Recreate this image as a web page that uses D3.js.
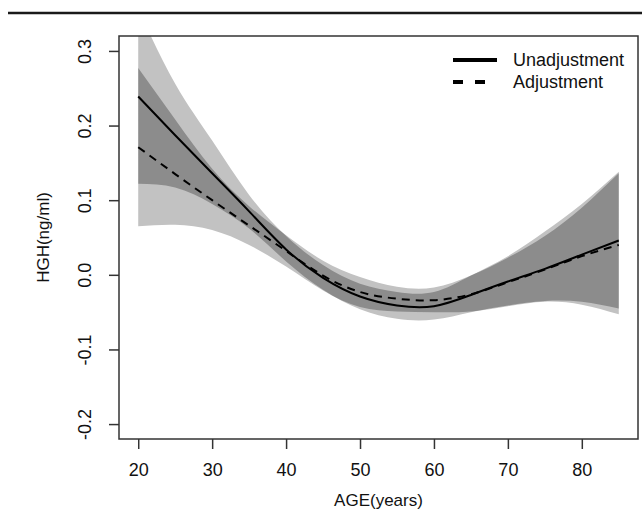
<!DOCTYPE html>
<html>
<head>
<meta charset="utf-8">
<script src="https://cdn.jsdelivr.net/npm/d3@7"></script>
<style>
  body { margin: 0; background: #fff; }
  text { font-family: "Liberation Sans", Arial, sans-serif; fill: #111; }
</style>
</head>
<body>
<script>
const width = 642, height = 514;

const ages = [20, 25, 30, 35, 40, 45, 50, 55, 60, 65, 70, 75, 80, 85];

// unadjusted spline fit and its confidence band
const unadjFit  = [0.239, 0.187, 0.136, 0.085, 0.034, -0.004, -0.029, -0.041, -0.042, -0.027, -0.009, 0.008, 0.027, 0.046];
const unadjLow  = [0.122, 0.117, 0.095, 0.062, 0.018, -0.020, -0.046, -0.059, -0.060, -0.050, -0.041, -0.035, -0.036, -0.045];
const unadjHigh = [0.356, 0.256, 0.180, 0.107, 0.052, 0.013, -0.012, -0.023, -0.023, -0.001, 0.025, 0.058, 0.095, 0.138];

// adjusted spline fit and its confidence band
const adjFit  = [0.171, 0.135, 0.100, 0.066, 0.032, -0.001, -0.023, -0.032, -0.034, -0.026, -0.010, 0.007, 0.025, 0.040];
const adjLow  = [0.065, 0.067, 0.060, 0.040, 0.011, -0.021, -0.043, -0.049, -0.050, -0.049, -0.042, -0.036, -0.040, -0.053];
const adjHigh = [0.277, 0.208, 0.142, 0.092, 0.053, 0.019, -0.003, -0.016, -0.017, -0.001, 0.023, 0.052, 0.090, 0.136];

const xTicks = [20, 30, 40, 50, 60, 70, 80];
const yTicks = [-0.2, -0.1, 0.0, 0.1, 0.2, 0.3];

const legendLabels = ["Unadjustment", "Adjustment"];

const margin = { left: 119, right: 4, top: 36, bottom: 75 };

const svg = d3.select("body").append("svg")
    .attr("width", width)
    .attr("height", height);

// rule across the top of the figure
svg.append("line")
    .attr("x1", 8).attr("x2", width)
    .attr("y1", 13).attr("y2", 13)
    .attr("stroke", "#1a1a1a")
    .attr("stroke-width", 2.5);

const x = d3.scaleLinear().domain([17.4, 87.6]).range([margin.left, width - margin.right]);
const y = d3.scaleLinear().domain([-0.22, 0.32]).range([height - margin.bottom, margin.top]);

const defs = svg.append("defs");
defs.append("clipPath").attr("id", "plot-clip")
  .append("rect")
    .attr("x", x.range()[0]).attr("y", y.range()[1])
    .attr("width", x.range()[1] - x.range()[0])
    .attr("height", y.range()[0] - y.range()[1]);

const bandPath = (lo, hi) => d3.area()
    .x((d, i) => x(ages[i]))
    .y0((d, i) => y(lo[i]))
    .y1((d, i) => y(hi[i]))
    .curve(d3.curveNatural)(ages);

// overlap of the two bands is drawn darker
defs.append("clipPath").attr("id", "unadj-clip")
  .append("path")
    .attr("d", bandPath(unadjLow, unadjHigh));

const plot = svg.append("g").attr("clip-path", "url(#plot-clip)");

plot.append("path")
    .attr("d", bandPath(unadjLow, unadjHigh))
    .attr("fill", "#c2c2c2");

plot.append("path")
    .attr("d", bandPath(adjLow, adjHigh))
    .attr("fill", "#c2c2c2");

plot.append("g").attr("clip-path", "url(#unadj-clip)")
  .append("path")
    .attr("d", bandPath(adjLow, adjHigh))
    .attr("fill", "#8c8c8c");

const line = d3.line()
    .x(d => x(d[0]))
    .y(d => y(d[1]))
    .curve(d3.curveNatural);

plot.append("path")
    .attr("d", line(d3.zip(ages, unadjFit)))
    .attr("fill", "none")
    .attr("stroke", "#000")
    .attr("stroke-width", 2);

plot.append("path")
    .attr("d", line(d3.zip(ages, adjFit)))
    .attr("fill", "none")
    .attr("stroke", "#000")
    .attr("stroke-width", 2)
    .attr("stroke-dasharray", "8,6");

// box
svg.append("rect")
    .attr("x", x.range()[0]).attr("y", y.range()[1])
    .attr("width", x.range()[1] - x.range()[0])
    .attr("height", y.range()[0] - y.range()[1])
    .attr("fill", "none")
    .attr("stroke", "#333")
    .attr("stroke-width", 1.5);

// axes
const xAxis = svg.append("g")
    .attr("transform", `translate(0,${y.range()[0]})`)
    .call(d3.axisBottom(x).tickValues(xTicks).tickSize(10).tickSizeOuter(0).tickPadding(14));

const yAxis = svg.append("g")
    .attr("transform", `translate(${x.range()[0]},0)`)
    .call(d3.axisLeft(y).tickValues(yTicks).tickSize(10).tickSizeOuter(0)
        .tickFormat(d => d.toFixed(1)));

[xAxis, yAxis].forEach(g => {
    g.select(".domain").remove();
    g.selectAll(".tick line").attr("stroke", "#333").attr("stroke-width", 1.5);
    g.selectAll(".tick text").attr("font-size", 18).attr("fill", "#111")
        .style("font-family", "'Liberation Sans', Arial, sans-serif");
});

yAxis.selectAll(".tick text")
    .attr("x", 0).attr("dy", 0)
    .attr("text-anchor", "middle")
    .attr("transform", "translate(-33,0) rotate(-90)")
    .attr("dominant-baseline", "middle");

// axis titles
svg.append("text")
    .attr("x", (x.range()[0] + x.range()[1]) / 2)
    .attr("y", 506)
    .attr("text-anchor", "middle")
    .attr("font-size", 17)
    .text("AGE(years)");

svg.append("text")
    .attr("transform", `translate(49,${(y.range()[0] + y.range()[1]) / 2}) rotate(-90)`)
    .attr("text-anchor", "middle")
    .attr("font-size", 17)
    .text("HGH(ng/ml)");

// legend
const legend = svg.append("g");
legendLabels.forEach((label, i) => {
    const ly = 60 + i * 22;
    legend.append("line")
        .attr("x1", 453).attr("x2", 497)
        .attr("y1", ly).attr("y2", ly)
        .attr("stroke", "#000")
        .attr("stroke-width", 4)
        .attr("stroke-dasharray", i === 0 ? null : "10,12");
    legend.append("text")
        .attr("x", 513)
        .attr("y", ly)
        .attr("dy", "0.36em")
        .attr("font-size", 18)
        .text(label);
});
</script>
</body>
</html>
